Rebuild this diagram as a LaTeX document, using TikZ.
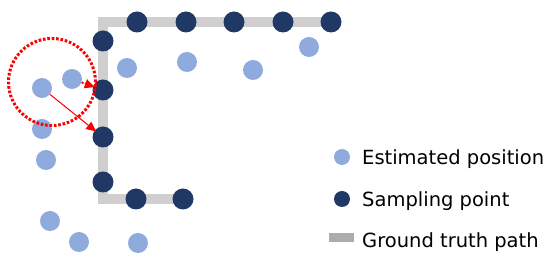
\documentclass[tikz,border=0pt]{standalone}
\usepackage{fontspec}
\setmainfont{DejaVu Sans}
\usetikzlibrary{arrows.meta}
\definecolor{estblue}{HTML}{8FAADC}
\definecolor{sampnavy}{HTML}{1F3864}
\definecolor{pathgray}{HTML}{D0CECE}
\definecolor{leggray}{HTML}{AEABAB}
\definecolor{myred}{HTML}{FF0000}
\tikzset{
  est/.style={circle,fill=estblue,inner sep=0pt,minimum size=20pt},
  samp/.style={circle,fill=sampnavy,inner sep=0pt,minimum size=21pt},
  estleg/.style={circle,fill=estblue,inner sep=0pt,minimum size=16pt},
  sampleg/.style={circle,fill=sampnavy,inner sep=0pt,minimum size=16pt},
  legtext/.style={anchor=base west,inner sep=0pt,font=\fontsize{19.5}{22}\selectfont},
  truthpath/.style={draw=pathgray,line width=10pt,line join=miter},
  redarrow/.style={draw=myred,-{Triangle[length=10pt,width=9pt]},shorten >=-2pt}
}
\begin{document}
\begin{tikzpicture}[x=1pt,y=-1pt]
\useasboundingbox (0,0) rectangle (550,256);
% corners of the ground truth path
\coordinate (ctop) at (103,22);
\coordinate (cbot) at (103,199);
% sampling point positions
\coordinate (p1) at (103,41);
\coordinate (p2) at (137,22);
\coordinate (p3) at (186,22);
\coordinate (p4) at (234,22);
\coordinate (p5) at (283,22);
\coordinate (p6) at (331,22);
\coordinate (p7) at (103,90);
\coordinate (p8) at (103,137);
\coordinate (p9) at (103,182);
\coordinate (p10) at (136,199);
\coordinate (p11) at (183,199);
% ground truth path
\draw[truthpath] (p6) -- (ctop) -- (cbot) -- (p11);
% estimated positions
\node[est] (l1) at (42,88) {};
\node[est] (l2) at (72,79) {};
\node[est] (l3) at (42,129) {};
\node[est] (l4) at (46,160) {};
\node[est] (l5) at (50,221) {};
\node[est] (l6) at (79,242) {};
\node[est] (l7) at (138,243) {};
\node[est] (l8) at (127,68) {};
\node[est] (l9) at (187,62) {};
\node[est] (l10) at (253,70) {};
\node[est] (l11) at (309,47) {};
% sampling points
\foreach \i in {1,...,11} {\node[samp] (d\i) at (p\i) {};}
% red search circle
\node[draw=myred,circle,line width=3pt,dash pattern=on 2.6pt off 1.8pt,minimum size=87pt,inner sep=0pt] (search) at (52,82) {};
% arrows
\draw[redarrow,line width=2pt,dash pattern=on 2pt off 1.5pt] (l2) -- (d7);
\draw[redarrow,line width=1pt] (l1) -- (d8);
% legend
\node[estleg] (le) at (342,157) {};
\node[legtext] (te) at (362,165) {Estimated position};
\node[sampleg] (ls) at (342,199) {};
\node[legtext] (ts) at (362,207) {Sampling point};
\node[fill=leggray,minimum width=25pt,minimum height=9pt,inner sep=0pt] (lg) at (341.5,237.5) {};
\node[legtext] (tg) at (362,248) {Ground truth path};
\end{tikzpicture}
\end{document}
